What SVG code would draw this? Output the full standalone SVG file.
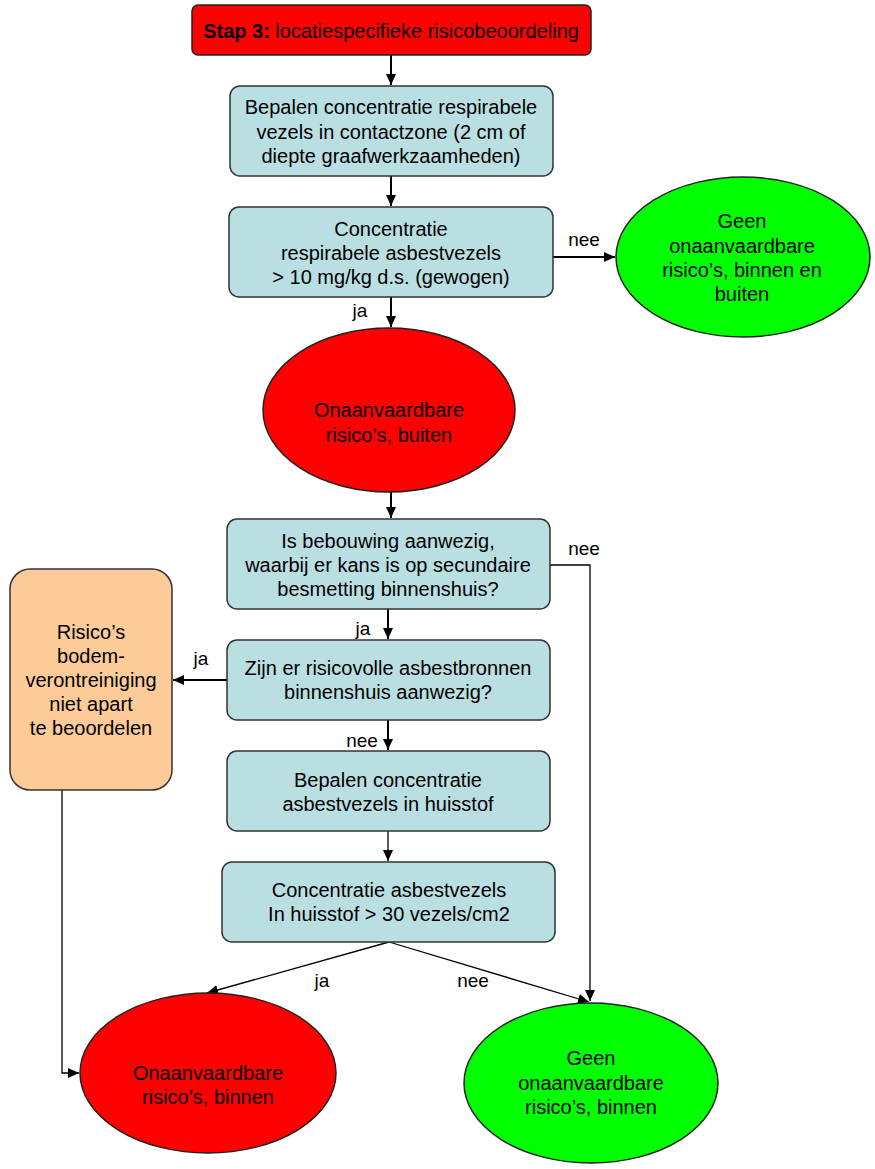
<svg xmlns="http://www.w3.org/2000/svg" width="875" height="1169" viewBox="0 0 875 1169">
<style>
text{font-family:"Liberation Sans",Arial,sans-serif;font-size:20px;fill:#000;text-anchor:middle}
.lbl{font-size:19px}
.box{fill:#BADFE2;stroke:#333;stroke-width:1.5}
.red{fill:#FF0000;stroke:#222;stroke-width:1.5}
.green{fill:#00FF00;stroke:#222;stroke-width:1.5}
.orange{fill:#FDCB97;stroke:#333;stroke-width:1.5}
.c{fill:none;stroke:#000;stroke-width:2}
.thin{fill:none;stroke:#000;stroke-width:1.3}
</style>
<defs>
<marker id="ah" markerUnits="userSpaceOnUse" markerWidth="12" markerHeight="10" refX="11" refY="5" orient="auto">
<path d="M0,0 L11,5 L0,10 Z" fill="#000"/>
</marker>
</defs>
<g id="connectors">
<line class="c" x1="391" y1="55" x2="391" y2="85" marker-end="url(#ah)"/>
<line class="c" x1="391" y1="176" x2="391" y2="206" marker-end="url(#ah)"/>
<line class="c" x1="553" y1="257" x2="615" y2="257" marker-end="url(#ah)"/>
<text class="lbl" x="584" y="246">nee</text>
<line class="c" x1="391" y1="297" x2="391" y2="327" marker-end="url(#ah)"/>
<text class="lbl" x="360" y="317">ja</text>
<line class="c" x1="391" y1="492" x2="391" y2="518" marker-end="url(#ah)"/>
<polyline class="thin" points="550,565 590,565 590,1001" marker-end="url(#ah)"/>
<text class="lbl" x="584" y="555">nee</text>
<line class="c" x1="388" y1="609" x2="388" y2="639" marker-end="url(#ah)"/>
<text class="lbl" x="363" y="635">ja</text>
<line class="c" x1="227" y1="680" x2="173" y2="680" marker-end="url(#ah)"/>
<text class="lbl" x="201" y="665">ja</text>
<line class="c" x1="388" y1="720" x2="388" y2="750" marker-end="url(#ah)"/>
<text class="lbl" x="362" y="747">nee</text>
<line class="thin" x1="388" y1="831" x2="388" y2="861" marker-end="url(#ah)"/>
<polyline class="thin" points="62,790 62,1073 79,1073" marker-end="url(#ah)"/>
<line class="thin" x1="389" y1="942" x2="207" y2="993" marker-end="url(#ah)"/>
<text class="lbl" x="322" y="987">ja</text>
<line class="thin" x1="389" y1="942" x2="589" y2="1002" marker-end="url(#ah)"/>
<text class="lbl" x="473" y="987">nee</text>
</g>
<g id="stap3">
<rect class="red" x="192" y="5" width="399" height="50" rx="6"/>
<text x="391" y="38"><tspan font-weight="bold">Stap 3:</tspan> locatiespecifieke risicobeoordeling</text>
</g>
<g id="bepalen-respirabel">
<rect class="box" x="230" y="86" width="323" height="90" rx="10"/>
<text x="391" y="114">Bepalen concentratie respirabele</text>
<text x="391" y="139">vezels in contactzone (2 cm of</text>
<text x="391" y="163">diepte graafwerkzaamheden)</text>
</g>
<g id="concentratie-10">
<rect class="box" x="229" y="207" width="324" height="90" rx="10"/>
<text x="391" y="236">Concentratie</text>
<text x="391" y="260">respirabele asbestvezels</text>
<text x="391" y="284">&gt; 10 mg/kg d.s. (gewogen)</text>
</g>
<g id="geen-binnen-buiten">
<ellipse class="green" cx="743" cy="257" rx="127" ry="80"/>
<text x="742" y="228">Geen</text>
<text x="742" y="253">onaanvaardbare</text>
<text x="742" y="277">risico’s, binnen en</text>
<text x="742" y="301">buiten</text>
</g>
<g id="onaanvaardbaar-buiten">
<ellipse class="red" cx="389" cy="410" rx="126" ry="82"/>
<text x="389" y="417">Onaanvaardbare</text>
<text x="389" y="442">risico’s, buiten</text>
</g>
<g id="bebouwing">
<rect class="box" x="227" y="519" width="323" height="90" rx="10"/>
<text x="388" y="548">Is bebouwing aanwezig,</text>
<text x="388" y="572">waarbij er kans is op secundaire</text>
<text x="388" y="596">besmetting binnenshuis?</text>
</g>
<g id="bronnen">
<rect class="box" x="227" y="640" width="323" height="80" rx="10"/>
<text x="388" y="675">Zijn er risicovolle asbestbronnen</text>
<text x="388" y="699">binnenshuis aanwezig?</text>
</g>
<g id="niet-apart">
<rect class="orange" x="10" y="569" width="162" height="221" rx="20"/>
<text x="91" y="639">Risico’s</text>
<text x="91" y="663">bodem-</text>
<text x="91" y="687">verontreiniging</text>
<text x="91" y="711">niet apart</text>
<text x="91" y="735">te beoordelen</text>
</g>
<g id="bepalen-huisstof">
<rect class="box" x="227" y="751" width="323" height="80" rx="10"/>
<text x="388" y="787">Bepalen concentratie</text>
<text x="388" y="811">asbestvezels in huisstof</text>
</g>
<g id="concentratie-30">
<rect class="box" x="222" y="862" width="333" height="80" rx="10"/>
<text x="389" y="897">Concentratie asbestvezels</text>
<text x="389" y="921">In huisstof &gt; 30 vezels/cm2</text>
</g>
<g id="onaanvaardbaar-binnen">
<ellipse class="red" cx="208" cy="1073" rx="128" ry="80"/>
<text x="208" y="1080">Onaanvaardbare</text>
<text x="208" y="1104">risico’s, binnen</text>
</g>
<g id="geen-binnen">
<ellipse class="green" cx="591" cy="1083" rx="127" ry="80"/>
<text x="591" y="1065">Geen</text>
<text x="591" y="1090">onaanvaardbare</text>
<text x="591" y="1114">risico’s, binnen</text>
</g>
</svg>
